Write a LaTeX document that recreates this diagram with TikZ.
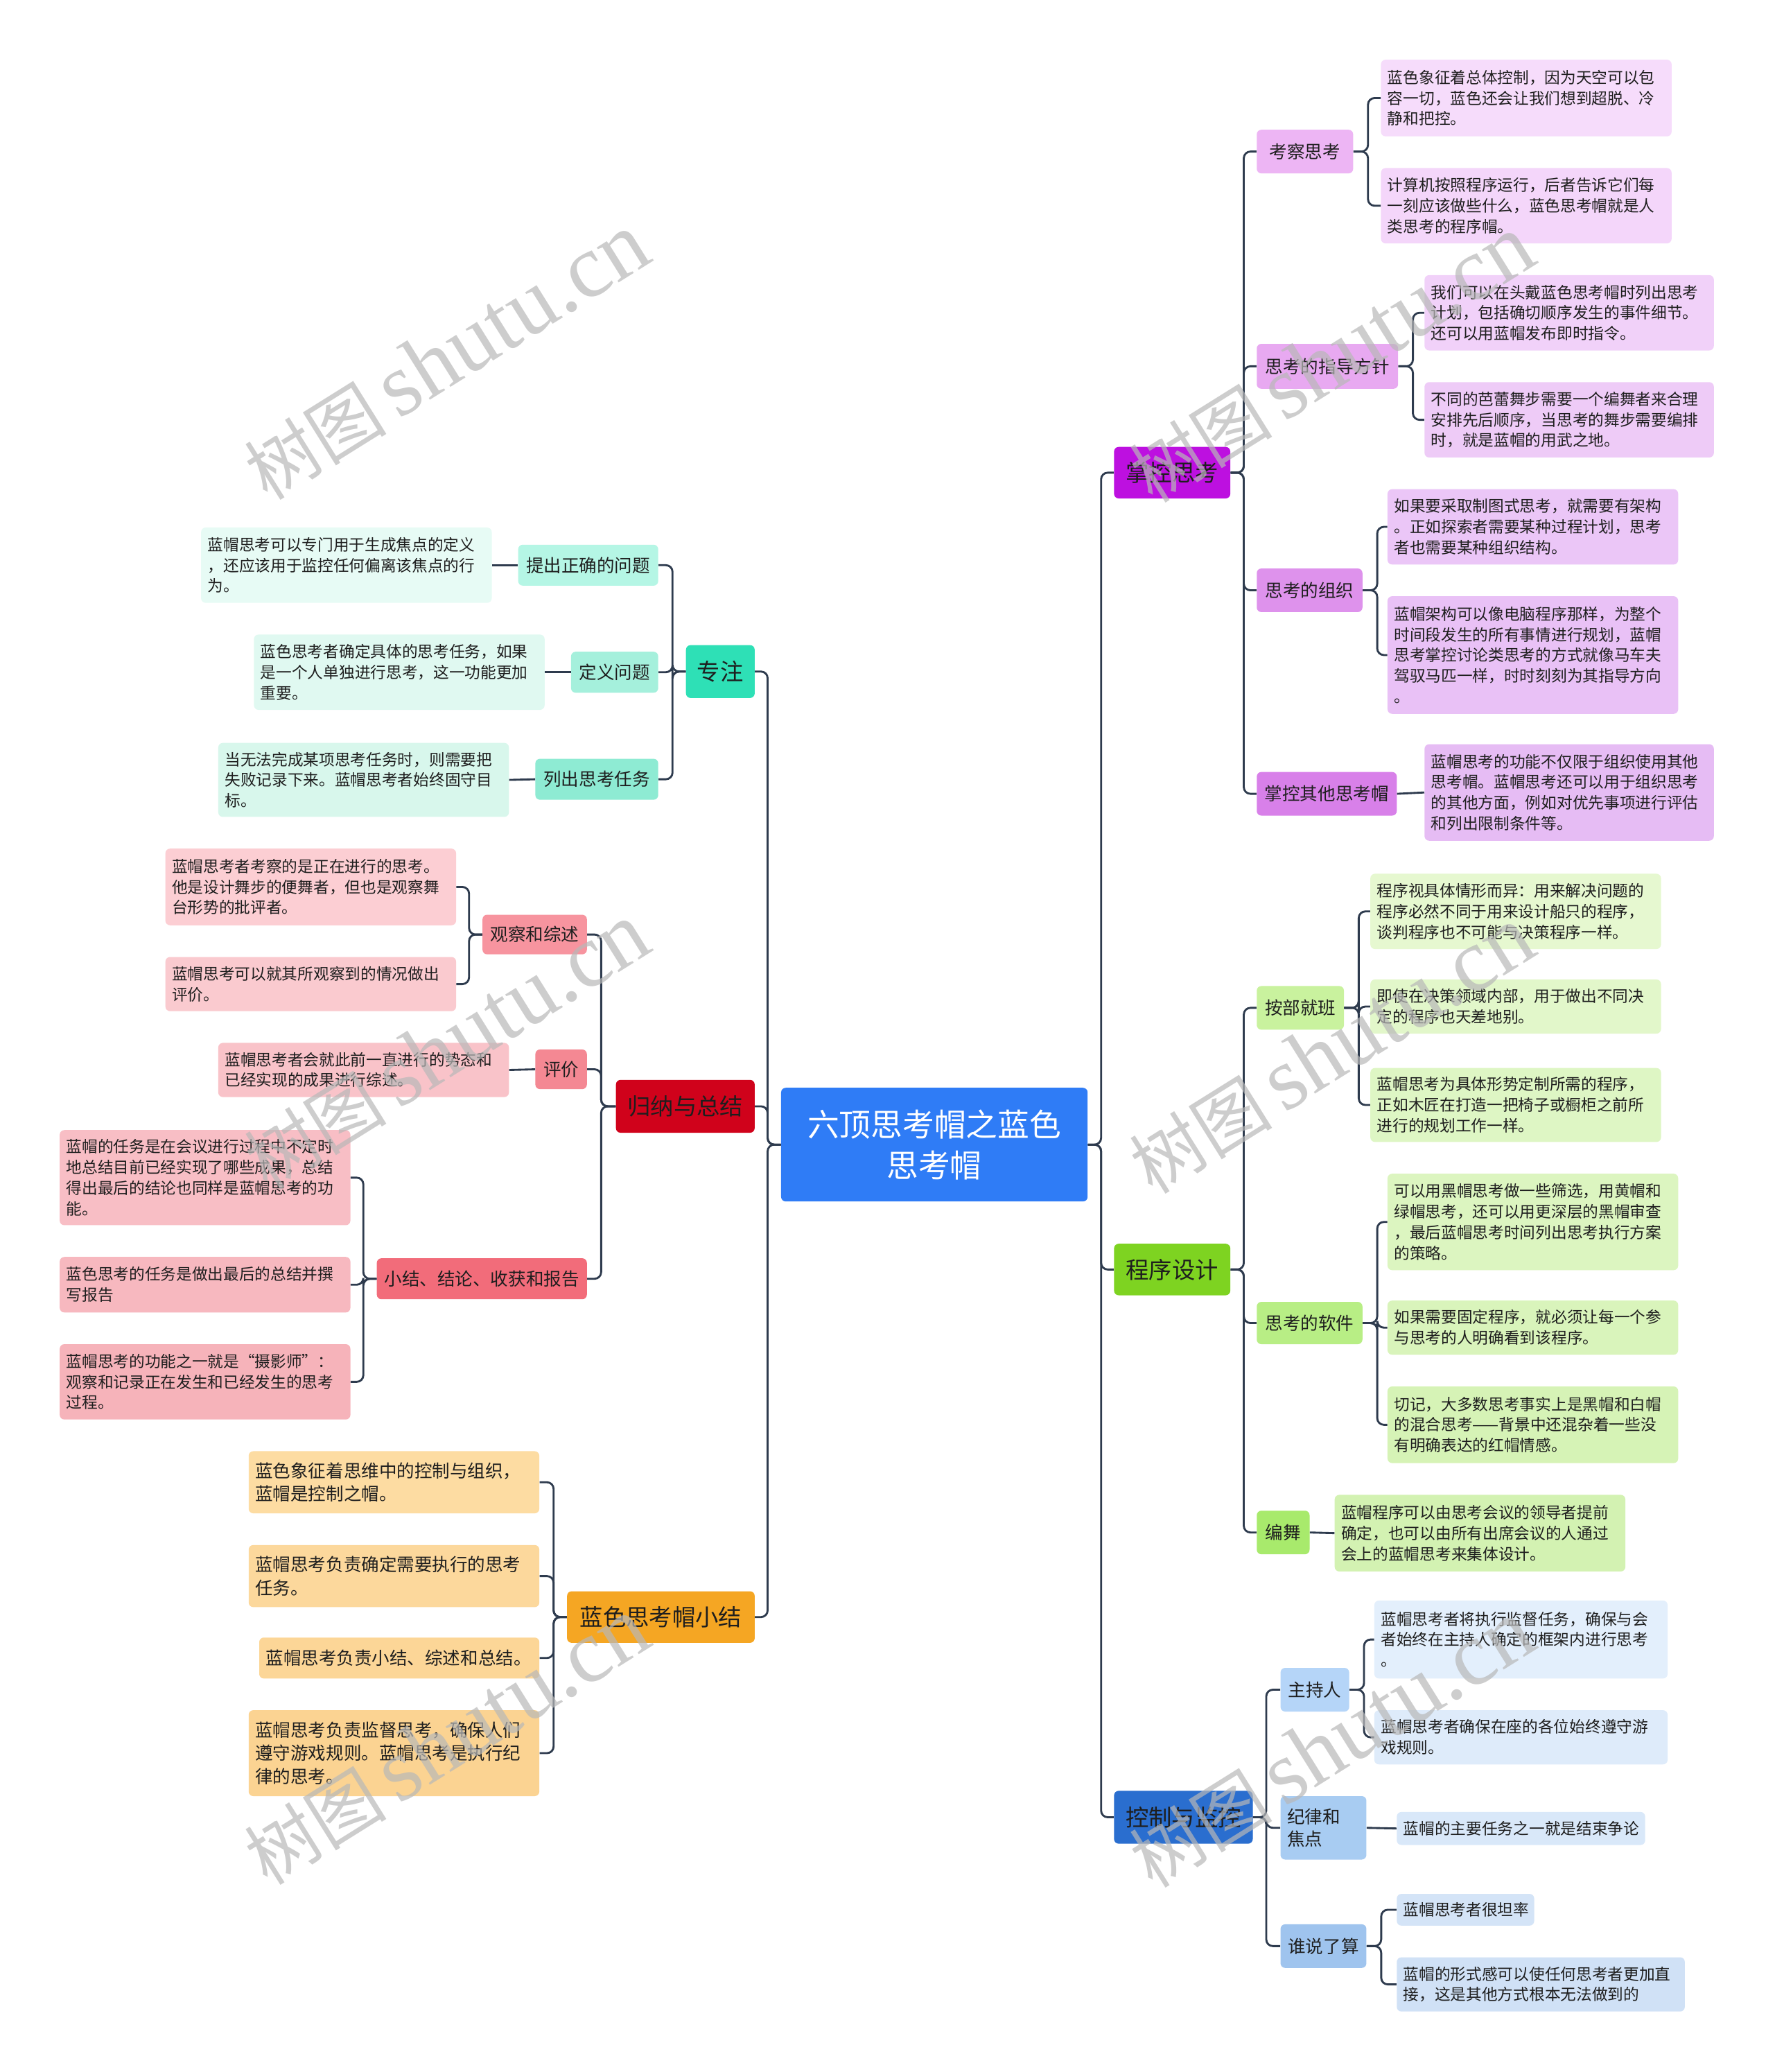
\documentclass[tikz,border=0pt]{standalone}
\usepackage{fontspec}
\setmainfont{Noto Sans CJK SC}
\newfontfamily\wmfont{Liberation Serif}
\definecolor{linec}{HTML}{2E3B4E}
\definecolor{txt}{HTML}{1E1E1E}
% main colours
\definecolor{cC}{HTML}{2F7CF6}
\definecolor{mP}{HTML}{BD10E0}
\definecolor{mG}{HTML}{7ED321}
\definecolor{mB}{HTML}{2A6ECF}
\definecolor{mT}{HTML}{2EE0B6}
\definecolor{mR}{HTML}{D0021B}
\definecolor{mO}{HTML}{F5A623}
% purple
\definecolor{pa}{HTML}{EDB5F4}\definecolor{pb}{HTML}{E8A9F1}\definecolor{pc}{HTML}{DE92EC}\definecolor{pd}{HTML}{D880E9}
\definecolor{pl1}{HTML}{F6DCFB}\definecolor{pl2}{HTML}{F4D6FA}\definecolor{pl3}{HTML}{F1D1F9}\definecolor{pl4}{HTML}{EECBF7}
\definecolor{pl5}{HTML}{EBC6F7}\definecolor{pl6}{HTML}{E9C1F6}\definecolor{pl7}{HTML}{E6BCF4}
% green
\definecolor{ga}{HTML}{C9F29E}\definecolor{gb}{HTML}{B8EE85}\definecolor{gc}{HTML}{A8EA6C}
\definecolor{gl1}{HTML}{E6F8D0}\definecolor{gl2}{HTML}{E2F7CA}\definecolor{gl3}{HTML}{DEF6C4}\definecolor{gl4}{HTML}{DCF5C0}
\definecolor{gl5}{HTML}{D9F4BB}\definecolor{gl6}{HTML}{D6F3B6}\definecolor{gl7}{HTML}{D3F2B2}
% blue
\definecolor{ba}{HTML}{B5D5F8}\definecolor{bb}{HTML}{A8CCF2}\definecolor{bc}{HTML}{9FC4EE}
\definecolor{bl1}{HTML}{E3EFFC}\definecolor{bl2}{HTML}{DEEBFA}\definecolor{bl3}{HTML}{D9E8F9}\definecolor{bl4}{HTML}{D4E4F7}\definecolor{bl5}{HTML}{D0E1F6}
% teal
\definecolor{ta}{HTML}{B5F6E5}\definecolor{tb}{HTML}{A5F0DC}\definecolor{tc}{HTML}{8EEBD3}
\definecolor{tl1}{HTML}{E7FBF5}\definecolor{tl2}{HTML}{E0F9F1}\definecolor{tl3}{HTML}{D8F7EC}
% red
\definecolor{ra}{HTML}{F7949F}\definecolor{rb}{HTML}{F48893}\definecolor{rc}{HTML}{F26C7A}
\definecolor{rl1}{HTML}{FCCED3}\definecolor{rl2}{HTML}{FACACF}\definecolor{rl3}{HTML}{F9C3C9}\definecolor{rl4}{HTML}{F8BEC5}
\definecolor{rl5}{HTML}{F7B8BF}\definecolor{rl6}{HTML}{F6B3BA}
% orange
\definecolor{ol1}{HTML}{FDDCA2}\definecolor{ol2}{HTML}{FCD89C}\definecolor{ol3}{HTML}{FCD697}\definecolor{ol4}{HTML}{FBD392}

\newcommand\fleaf{\fontsize{11.9}{15.6}\selectfont}
\newcommand\fleafo{\fontsize{13.4}{17.6}\selectfont}
\newcommand\flvtwo{\fontsize{13.4}{17}\selectfont}
\newcommand\flvone{\fontsize{17.5}{21}\selectfont}
\newcommand\fcenter{\fontsize{24}{31}\selectfont}

\tikzset{
  conn/.style={draw=linec, line width=1.5pt, rounded corners=5pt},
  bx/.style={rounded corners=3.5pt, inner xsep=5pt, inner ysep=0pt, anchor=north west, text=txt},
  leaf/.style={bx, align=left, font=\fleaf},
  leafo/.style={bx, align=left, font=\fleafo},
  lvtwo/.style={bx, align=center, font=\flvtwo},
  lvtwol/.style={bx, align=left, font=\flvtwo},
  lvone/.style={bx, align=center, font=\flvone},
}
% name, x, y, w, h, style, text
\newcommand\nd[7]{\node[#6, minimum width=#4pt, minimum height=#5pt] (#1) at (#2,#3) {#7};}
% leaf with text width: name x y w h style text
\newcommand\lf[7]{\pgfmathsetmacro\tmpw{#4-10}\node[#6, text width=\tmpw pt, minimum height=#5pt] (#1) at (#2,#3) {#7};}

\begin{document}
\begin{tikzpicture}[x=1pt,y=-1pt]
\fill[white] (0,0) rectangle (1343,1568);
\useasboundingbox (0,0) rectangle (1343,1568);

% ---------- centre ----------
\node[bx, fill=cC, text=white, align=center, font=\fcenter, minimum width=232pt, minimum height=86pt] (c) at (591,823) {六顶思考帽之蓝色\\思考帽};

% ---------- level 1 ----------
\nd{m1}{843}{338}{88}{39}{lvone,fill=mP}{掌控思考}
\nd{m2}{843}{941}{88}{39}{lvone,fill=mG}{程序设计}
\nd{m3}{843}{1355}{105}{40}{lvone,fill=mB}{控制与监控}
\nd{l1}{519}{488}{52}{40}{lvone,fill=mT}{专注}
\nd{l2}{466}{817}{105}{40}{lvone,fill=mR}{归纳与总结}
\nd{l3}{429}{1204}{142}{39}{lvone,fill=mO}{蓝色思考帽小结}

% ---------- 掌控思考 ----------
\nd{a1}{951}{98}{73}{33}{lvtwo,fill=pa}{考察思考}
\lf{a11}{1045}{45}{220}{58}{leaf,fill=pl1}{蓝色象征着总体控制，因为天空可以包\\容一切，蓝色还会让我们想到超脱、冷\\静和把控。}
\lf{a12}{1045}{127}{220}{57}{leaf,fill=pl2}{计算机按照程序运行，后者告诉它们每\\一刻应该做些什么，蓝色思考帽就是人\\类思考的程序帽。}
\nd{a2}{951}{260}{107}{34}{lvtwo,fill=pb}{思考的指导方针}
\lf{a21}{1078}{208}{219}{57}{leaf,fill=pl3}{我们可以在头戴蓝色思考帽时列出思考\\计划，包括确切顺序发生的事件细节。\\还可以用蓝帽发布即时指令。}
\lf{a22}{1078}{289}{219}{57}{leaf,fill=pl4}{不同的芭蕾舞步需要一个编舞者来合理\\安排先后顺序，当思考的舞步需要编排\\时，就是蓝帽的用武之地。}
\nd{a3}{951}{430}{80}{33}{lvtwo,fill=pc}{思考的组织}
\lf{a31}{1050}{370}{220}{57}{leaf,fill=pl5}{如果要采取制图式思考，就需要有架构\\。正如探索者需要某种过程计划，思考\\者也需要某种组织结构。}
\lf{a32}{1050}{451}{220}{89}{leaf,fill=pl6}{蓝帽架构可以像电脑程序那样，为整个\\时间段发生的所有事情进行规划，蓝帽\\思考掌控讨论类思考的方式就像马车夫\\驾驭马匹一样，时时刻刻为其指导方向\\。}
\nd{a4}{951}{584}{106}{33}{lvtwo,fill=pd}{掌控其他思考帽}
\lf{a41}{1078}{563}{219}{73}{leaf,fill=pl7}{蓝帽思考的功能不仅限于组织使用其他\\思考帽。蓝帽思考还可以用于组织思考\\的其他方面，例如对优先事项进行评估\\和列出限制条件等。}

% ---------- 程序设计 ----------
\nd{b1}{951}{746}{66}{33}{lvtwo,fill=ga}{按部就班}
\lf{b11}{1037}{661}{220}{57}{leaf,fill=gl1}{程序视具体情形而异：用来解决问题的\\程序必然不同于用来设计船只的程序，\\谈判程序也不可能与决策程序一样。}
\lf{b12}{1037}{741}{220}{41}{leaf,fill=gl2}{即使在决策领域内部，用于做出不同决\\定的程序也天差地别。}
\lf{b13}{1037}{808}{220}{56}{leaf,fill=gl3}{蓝帽思考为具体形势定制所需的程序，\\正如木匠在打造一把椅子或橱柜之前所\\进行的规划工作一样。}
\nd{b2}{951}{985}{80}{32}{lvtwo,fill=gb}{思考的软件}
\lf{b21}{1050}{888}{220}{73}{leaf,fill=gl4}{可以用黑帽思考做一些筛选，用黄帽和\\绿帽思考，还可以用更深层的黑帽审查\\，最后蓝帽思考时间列出思考执行方案\\的策略。}
\lf{b22}{1050}{984}{220}{41}{leaf,fill=gl5}{如果需要固定程序，就必须让每一个参\\与思考的人明确看到该程序。}
\lf{b23}{1050}{1049}{220}{58}{leaf,fill=gl6}{切记，大多数思考事实上是黑帽和白帽\\的混合思考——背景中还混杂着一些没\\有明确表达的红帽情感。}
\nd{b3}{951}{1143}{40}{33}{lvtwo,fill=gc}{编舞}
\lf{b31}{1010}{1131}{220}{58}{leaf,fill=gl7}{蓝帽程序可以由思考会议的领导者提前\\确定，也可以由所有出席会议的人通过\\会上的蓝帽思考来集体设计。}

% ---------- 控制与监控 ----------
\nd{c1}{969}{1262}{52}{33}{lvtwo,fill=ba}{主持人}
\lf{c11}{1040}{1211}{222}{59}{leaf,fill=bl1}{蓝帽思考者将执行监督任务，确保与会\\者始终在主持人确定的框架内进行思考\\。}
\lf{c12}{1040}{1294}{222}{41}{leaf,fill=bl2}{蓝帽思考者确保在座的各位始终遵守游\\戏规则。}
\lf{c2}{969}{1359}{65}{48}{lvtwol,fill=bb}{纪律和\\焦点}
\lf{c21}{1057}{1371}{188}{25}{leaf,fill=bl3}{蓝帽的主要任务之一就是结束争论}
\nd{c3}{969}{1456}{65}{33}{lvtwo,fill=bc}{谁说了算}
\lf{c31}{1057}{1433}{104}{24}{leaf,fill=bl4}{蓝帽思考者很坦率}
\lf{c32}{1057}{1481}{218}{41}{leaf,fill=bl5}{蓝帽的形式感可以使任何思考者更加直\\接，这是其他方式根本无法做到的}

% ---------- 专注 ----------
\nd{d1}{392}{412}{106}{31}{lvtwo,fill=ta}{提出正确的问题}
\lf{d11}{152}{399}{220}{57}{leaf,fill=tl1}{蓝帽思考可以专门用于生成焦点的定义\\，还应该用于监控任何偏离该焦点的行\\为。}
\nd{d2}{432}{493}{66}{31}{lvtwo,fill=tb}{定义问题}
\lf{d21}{192}{480}{220}{57}{leaf,fill=tl2}{蓝色思考者确定具体的思考任务，如果\\是一个人单独进行思考，这一功能更加\\重要。}
\nd{d3}{405}{574}{93}{31}{lvtwo,fill=tc}{列出思考任务}
\lf{d31}{165}{562}{220}{56}{leaf,fill=tl3}{当无法完成某项思考任务时，则需要把\\失败记录下来。蓝帽思考者始终固守目\\标。}

% ---------- 归纳与总结 ----------
\nd{e1}{365}{692}{79}{30}{lvtwo,fill=ra}{观察和综述}
\lf{e11}{125}{642}{220}{58}{leaf,fill=rl1}{蓝帽思考者考察的是正在进行的思考。\\他是设计舞步的便舞者，但也是观察舞\\台形势的批评者。}
\lf{e12}{125}{724}{220}{41}{leaf,fill=rl2}{蓝帽思考可以就其所观察到的情况做出\\评价。}
\nd{e2}{405}{794}{39}{30}{lvtwo,fill=rb}{评价}
\lf{e21}{165}{789}{220}{41}{leaf,fill=rl3}{蓝帽思考者会就此前一直进行的势态和\\已经实现的成果进行综述。}
\nd{e3}{285}{952}{159}{31}{lvtwo,fill=rc}{小结、结论、收获和报告}
\lf{e31}{45}{855}{220}{72}{leaf,fill=rl4}{蓝帽的任务是在会议进行过程中不定时\\地总结目前已经实现了哪些成果，总结\\得出最后的结论也同样是蓝帽思考的功\\能。}
\lf{e32}{45}{951}{220}{42}{leaf,fill=rl5}{蓝色思考的任务是做出最后的总结并撰\\写报告}
\lf{e33}{45}{1017}{220}{57}{leaf,fill=rl6}{蓝帽思考的功能之一就是“摄影师”：\\观察和记录正在发生和已经发生的思考\\过程。}

% ---------- 蓝色思考帽小结 ----------
\lf{f1}{188}{1098}{220}{47}{leafo,fill=ol1}{蓝色象征着思维中的控制与组织，\\蓝帽是控制之帽。}
\lf{f2}{188}{1169}{220}{47}{leafo,fill=ol2}{蓝帽思考负责确定需要执行的思考\\任务。}
\lf{f3}{196}{1239}{212}{31}{leafo,fill=ol3}{蓝帽思考负责小结、综述和总结。}
\lf{f4}{188}{1294}{220}{65}{leafo,fill=ol4}{蓝帽思考负责监督思考，确保人们\\遵守游戏规则。蓝帽思考是执行纪\\律的思考。}

% ---------- connectors ----------
\foreach \ch in {m1,m2,m3}{\draw[conn] (c.east) -- ++(10,0) |- (\ch.west);}
\foreach \ch in {l1,l2,l3}{\draw[conn] (c.west) -- ++(-10,0) |- (\ch.east);}
\foreach \ch in {a1,a2,a3,a4}{\draw[conn] (m1.east) -- ++(10,0) |- (\ch.west);}
\foreach \ch in {b1,b2,b3}{\draw[conn] (m2.east) -- ++(10,0) |- (\ch.west);}
\foreach \ch in {c1,c2,c3}{\draw[conn] (m3.east) -- ++(10,0) |- (\ch.west);}
\foreach \p/\ch in {a1/a11,a1/a12,a2/a21,a2/a22,a3/a31,a3/a32,b1/b11,b1/b12,b1/b13,b2/b21,b2/b22,b2/b23,c1/c11,c1/c12,c3/c31,c3/c32}{\draw[conn] (\p.east) -- ++(11,0) |- (\ch.west);}
\draw[conn] (a4.east) -- (a41.west);
\draw[conn] (b3.east) -- (b31.west);
\draw[conn] (c2.east) -- (c21.west);
\foreach \ch in {d1,d2,d3}{\draw[conn] (l1.west) -- ++(-10,0) |- (\ch.east);}
\foreach \ch in {e1,e2,e3}{\draw[conn] (l2.west) -- ++(-11,0) |- (\ch.east);}
\foreach \ch in {f1,f2,f3,f4}{\draw[conn] (l3.west) -- ++(-10,0) |- (\ch.east);}
\foreach \p/\ch in {e1/e11,e1/e12,e3/e31,e3/e32,e3/e33}{\draw[conn] (\p.west) -- ++(-10,0) |- (\ch.east);}
\draw[conn] (d1.west) -- (d11.east);
\draw[conn] (d2.west) -- (d21.east);
\draw[conn] (d3.west) -- (d31.east);
\draw[conn] (e2.west) -- (e21.east);

% ---------- watermarks ----------
\foreach \x/\y [count=\i] in {338/270,1008/272,338/792,1008/795,338/1318,1008/1320}{
  \node[rotate=32, text=black!28, opacity=0.7, inner sep=0pt] (wm\i) at (\x,\y)
    {\fontsize{54}{60}\selectfont 树图\,{\wmfont\fontsize{68}{70}\selectfont shutu.cn}};
}
\end{tikzpicture}
\end{document}
